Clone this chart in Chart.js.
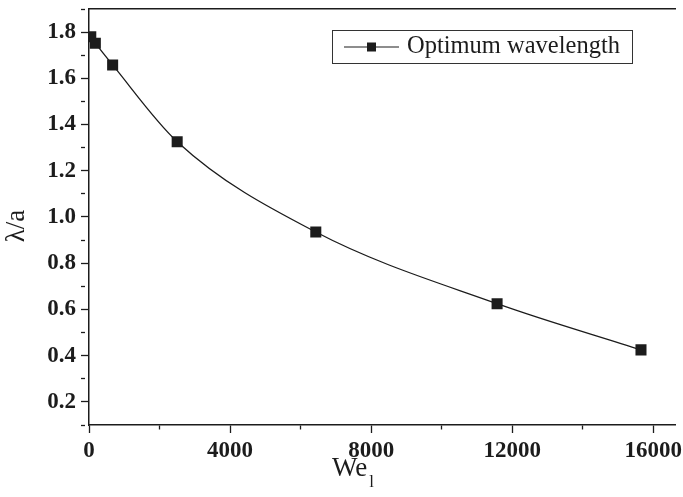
<!DOCTYPE html>
<html lang="en">
<head>
  <meta charset="UTF-8">
  <title>Optimum wavelength</title>
  <style>
    html, body { margin: 0; padding: 0; background: #fff; }
    #wrap { width: 683px; height: 497px; }
  </style>
</head>
<body>
  <div id="wrap">
    <canvas id="graphic" width="683" height="497"></canvas>
  </div>

  <script src="https://cdn.jsdelivr.net/npm/chart.js"></script>

  <script>
    // Weber number of the liquid vs. dimensionless optimum wavelength
    const weberNumbers = [50, 180, 670, 2500, 6430, 11570, 15650];
    const wavelengthRatios = [1.78, 1.752, 1.658, 1.326, 0.935, 0.625, 0.425];
    const seriesLabel = 'Optimum wavelength';

    // tick positions: labelled every 4000 / 0.2, short ticks in between
    const xTickValues = [0, 2000, 4000, 6000, 8000, 10000, 12000, 14000, 16000];
    const xTickLabels = ['0', '', '4000', '', '8000', '', '12000', '', '16000'];
    const yTickValues = [0.1, 0.2, 0.3, 0.4, 0.5, 0.6, 0.7, 0.8, 0.9, 1.0,
                         1.1, 1.2, 1.3, 1.4, 1.5, 1.6, 1.7, 1.8, 1.9];
    const yTickLabels = ['', '0.2', '', '0.4', '', '0.6', '', '0.8', '', '1.0',
                         '', '1.2', '', '1.4', '', '1.6', '', '1.8', ''];

    const xMax = 16620;

    const ink = '#1c1c1c';
    const serif = '"Liberation Serif", "Times New Roman", serif';

    const shortDash = [4, 100];
    const xDash = ctx => xTickLabels[ctx.index] ? [] : shortDash;
    const yDash = ctx => yTickLabels[ctx.index] ? [] : shortDash;

    // axis titles (We with subscript l, λ/a) and the boxed legend
    const extras = {
      id: 'extras',
      afterDraw(chart) {
        const ctx = chart.ctx;
        ctx.save();
        ctx.fillStyle = ink;

        // We_l
        ctx.textBaseline = 'alphabetic';
        ctx.font = '27px ' + serif;
        const wMain = ctx.measureText('We').width;
        ctx.fillText('We', 332, 476);
        ctx.font = '17px ' + serif;
        ctx.fillText('l', 332 + wMain + 2, 487);

        // λ/a, reading upwards
        ctx.save();
        ctx.translate(17, 226);
        ctx.rotate(-Math.PI / 2);
        ctx.font = '27px ' + serif;
        ctx.textAlign = 'center';
        ctx.textBaseline = 'middle';
        ctx.fillText('λ/a', 0, 0);
        ctx.restore();

        // legend
        ctx.strokeStyle = '#333';
        ctx.lineWidth = 1;
        ctx.strokeRect(332.5, 30.5, 300, 33);
        ctx.strokeStyle = ink;
        ctx.lineWidth = 1.2;
        ctx.beginPath();
        ctx.moveTo(344, 47);
        ctx.lineTo(399, 47);
        ctx.stroke();
        ctx.fillRect(367, 42.5, 9, 9);
        ctx.font = '24.5px ' + serif;
        ctx.textBaseline = 'middle';
        ctx.fillText(seriesLabel, 407, 47);

        ctx.restore();
      }
    };

    document.addEventListener('DOMContentLoaded', () => {
      const lienzo = document.getElementById('graphic');

      new Chart(lienzo, {
        type: 'line',
        data: {
          datasets: [{
            label: seriesLabel,
            data: weberNumbers.map((w, i) => ({ x: w, y: wavelengthRatios[i] })),
            borderColor: ink,
            borderWidth: 1.3,
            backgroundColor: ink,
            pointStyle: 'rect',
            pointRadius: 7.8,
            pointHoverRadius: 7.8,
            pointBorderWidth: 0,
            cubicInterpolationMode: 'monotone',
            fill: false
          }]
        },
        options: {
          responsive: false,
          animation: false,
          layout: { padding: 0 },
          plugins: {
            legend: { display: false },
            tooltip: { enabled: false }
          },
          scales: {
            x: {
              type: 'linear',
              position: 'bottom',
              min: 0,
              max: xMax,
              afterBuildTicks(scale) { scale.ticks = xTickValues.map(v => ({ value: v })); },
              afterFit(scale) {
                scale.height = 72;
                scale.paddingLeft = 0;
                scale.paddingRight = 0;
              },
              border: { display: true, color: ink, width: 1.5 },
              grid: {
                drawOnChartArea: false,
                tickLength: 8,
                tickColor: ink,
                tickWidth: 1.3,
                tickBorderDash: xDash
              },
              ticks: {
                maxRotation: 0,
                autoSkip: false,
                padding: 4,
                color: ink,
                font: { family: serif, size: 23, weight: 'bold' },
                callback: (v, i) => xTickLabels[i]
              }
            },
            x2: {
              type: 'linear',
              position: 'top',
              min: 0,
              max: xMax,
              afterFit(scale) {
                scale.height = 9;
                scale.paddingLeft = 0;
                scale.paddingRight = 0;
              },
              border: { display: true, color: ink, width: 1.5 },
              grid: { display: false },
              ticks: { display: false }
            },
            y: {
              type: 'linear',
              position: 'left',
              min: 0.1,
              max: 1.9,
              afterBuildTicks(scale) { scale.ticks = yTickValues.map(v => ({ value: v })); },
              afterFit(scale) {
                scale.width = 89;
                scale.paddingTop = 0;
                scale.paddingBottom = 0;
              },
              border: { display: true, color: ink, width: 1.5 },
              grid: {
                drawOnChartArea: false,
                tickLength: 8,
                tickColor: ink,
                tickWidth: 1.3,
                tickBorderDash: yDash
              },
              ticks: {
                autoSkip: false,
                padding: 5,
                color: ink,
                font: { family: serif, size: 23, weight: 'bold' },
                callback: (v, i) => yTickLabels[i]
              }
            }
          }
        },
        plugins: [extras]
      });
    });
  </script>
</body>
</html>
